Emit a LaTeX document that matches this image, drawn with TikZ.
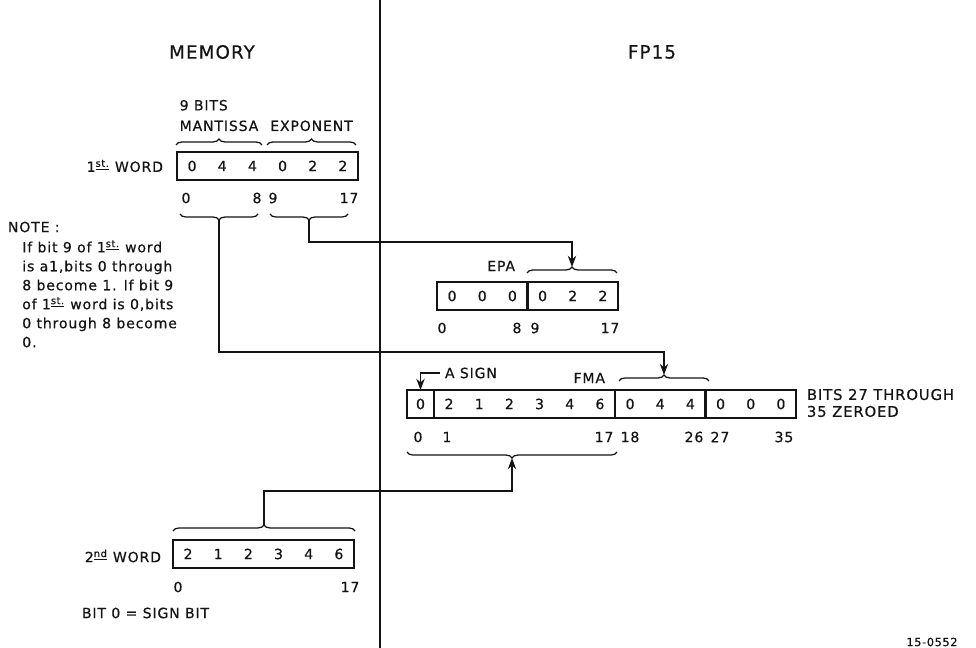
\documentclass[tikz,border=0pt]{standalone}
\usepackage{fontspec}
\setmainfont{DejaVu Sans}[LetterSpace=6, FakeBold=0.6]
\usepackage{tikz}
\usetikzlibrary{arrows.meta, positioning, decorations.pathreplacing, calc}
\definecolor{inkblack}{RGB}{20,20,20}
\newcommand{\dg}[1]{\makebox[0.754cm]{#1}}
\newcommand{\ordl}[1]{\textsuperscript{\underline{#1}}}

\begin{document}
\begin{tikzpicture}[x=0.025cm, y=-0.025cm, >={Stealth[length=8pt, width=6pt]},
    every node/.style={font=\fontsize{10}{12}\selectfont, text=inkblack},
    field/.style={draw=inkblack, line width=1.6pt, minimum height=0.7cm, inner sep=0pt, outer sep=0pt},
    brace/.style={draw=inkblack, decorate, decoration={brace, amplitude=4.3pt}, line width=0.9pt},
    link/.style={->, draw=inkblack, line width=0.9pt}]
    \useasboundingbox (0,0) rectangle (976,648);

    % divider between memory and FP15
    \coordinate (divtop) at (380,0);
    \coordinate (divbot) at (380,648);
    \draw[inkblack, line width=1.4pt] (divtop) -- (divbot);

    \node[font=\fontsize{13}{15}\selectfont] (mem) at (212,52) {MEMORY};
    \node[font=\fontsize{13}{15}\selectfont] (fp) at (652,52) {FP15};

    % 1st word
    \node[field, anchor=north west] (w1) at (177,152) {\dg0\dg4\dg4\dg0\dg2\dg2};
    \node[anchor=east] (w1lbl) at (168,166) {1\ordl{st.} WORD};
    \node (w1b0) at (186,198) {0};
    \node (w1b8) at (257,198) {8};
    \node (w1b9) at (273,198) {9};
    \node (w1b17) at (349,198) {17};
    \draw[brace] (176,145) -- (262,145) coordinate[midway, yshift=4.3pt] (mtop);
    \draw[brace] (267,145) -- (356,145) coordinate[midway, yshift=4.3pt] (etop);
    \node[above=2pt of mtop] (mant) {MANTISSA};
    \node[above=2pt of etop] (expo) {EXPONENT};
    \node[above=0pt of mant.north west, anchor=south west] (nine) {9 BITS};
    \draw[brace] (258,214) -- (180,214) coordinate[midway, yshift=-4.3pt] (mbot);
    \draw[brace] (348,214) -- (270,214) coordinate[midway, yshift=-4.3pt] (ebot);

    \node[anchor=west] (note) at (3,227) {NOTE :};
    \node[anchor=north west, align=left, inner sep=0pt, font=\fontsize{10}{13.5}\selectfont] (notebody) at (22,240)
        {If bit 9 of 1\ordl{st.} word\\is a1,bits 0 through\\8 become 1. If bit 9\\of 1\ordl{st.} word is 0,bits\\0 through 8 become\\0.};

    % EPA
    \node[field, anchor=north west] (epahi) at (437,282) {\dg0\dg0\dg0};
    \node[field, right=0pt of epahi] (epalo) {\dg0\dg2\dg2};
    \draw[brace] (527,273) -- (617,273) coordinate[midway, yshift=4.3pt] (epatip);
    \node[anchor=east] (epa) at (520,266) {EPA};
    \node (epab0) at (442,328) {0};
    \node (epab8) at (517,328) {8};
    \node (epab9) at (535,328) {9};
    \node (epab17) at (610,328) {17};

    % FMA
    \node[field, anchor=north west, minimum width=0.675cm] (fsign) at (407,390) {0};
    \node[field, right=0pt of fsign] (fmahi) {\dg2\dg1\dg2\dg3\dg4\dg6};
    \node[field, right=0pt of fmahi] (fmamid) {\dg0\dg4\dg4};
    \node[field, right=0pt of fmamid] (fmalo) {\dg0\dg0\dg0};
    \node[anchor=west, align=left, font=\fontsize{10.5}{12}\selectfont] (zeroed) at ($(fmalo.east)+(6,-1)$) {BITS 27 THROUGH\\35 ZEROED};
    \draw[brace] (619,381) -- (709,381) coordinate[midway, yshift=4.3pt] (fmatip);
    \node[anchor=east] (fma) at (610,378) {FMA};
    \node[anchor=west] (asign) at (440,373) {A SIGN};
    \draw[link] (asign.west) -| (fsign.north);
    \node (fb0) at (418,437) {0};
    \node (fb1) at (447,437) {1};
    \node (fb17) at (604,437) {17};
    \node (fb18) at (630,437) {18};
    \node (fb26) at (694,437) {26};
    \node (fb27) at (720,437) {27};
    \node (fb35) at (784,437) {35};
    \draw[brace] (617,452) -- (407,452) coordinate[midway, yshift=-4.3pt] (fmbtip);

    % 2nd word
    \node[field, anchor=north west] (w2) at (173,540) {\dg2\dg1\dg2\dg3\dg4\dg6};
    \node[anchor=east] (w2lbl) at (166,556) {2\ordl{nd} WORD};
    \draw[brace] (173,531) -- (355,531) coordinate[midway, yshift=4.3pt] (w2tip);
    \node (w2b0) at (178,587) {0};
    \node (w2b17) at (350,587) {17};
    \node[anchor=west] (signbit) at (77,613) {BIT 0 = SIGN BIT};

    \node[font=\fontsize{8}{10}\selectfont] (tag) at (932,642) {15-0552};

    % transfers
    \draw[link] (mbot) -- ++(0,132) -| (fmatip);
    \draw[link] (ebot) -- ++(0,22) -| (epatip);
    \draw[link] (w2tip) -- ++(0,-34) -| (fmbtip);
\end{tikzpicture}
\end{document}
